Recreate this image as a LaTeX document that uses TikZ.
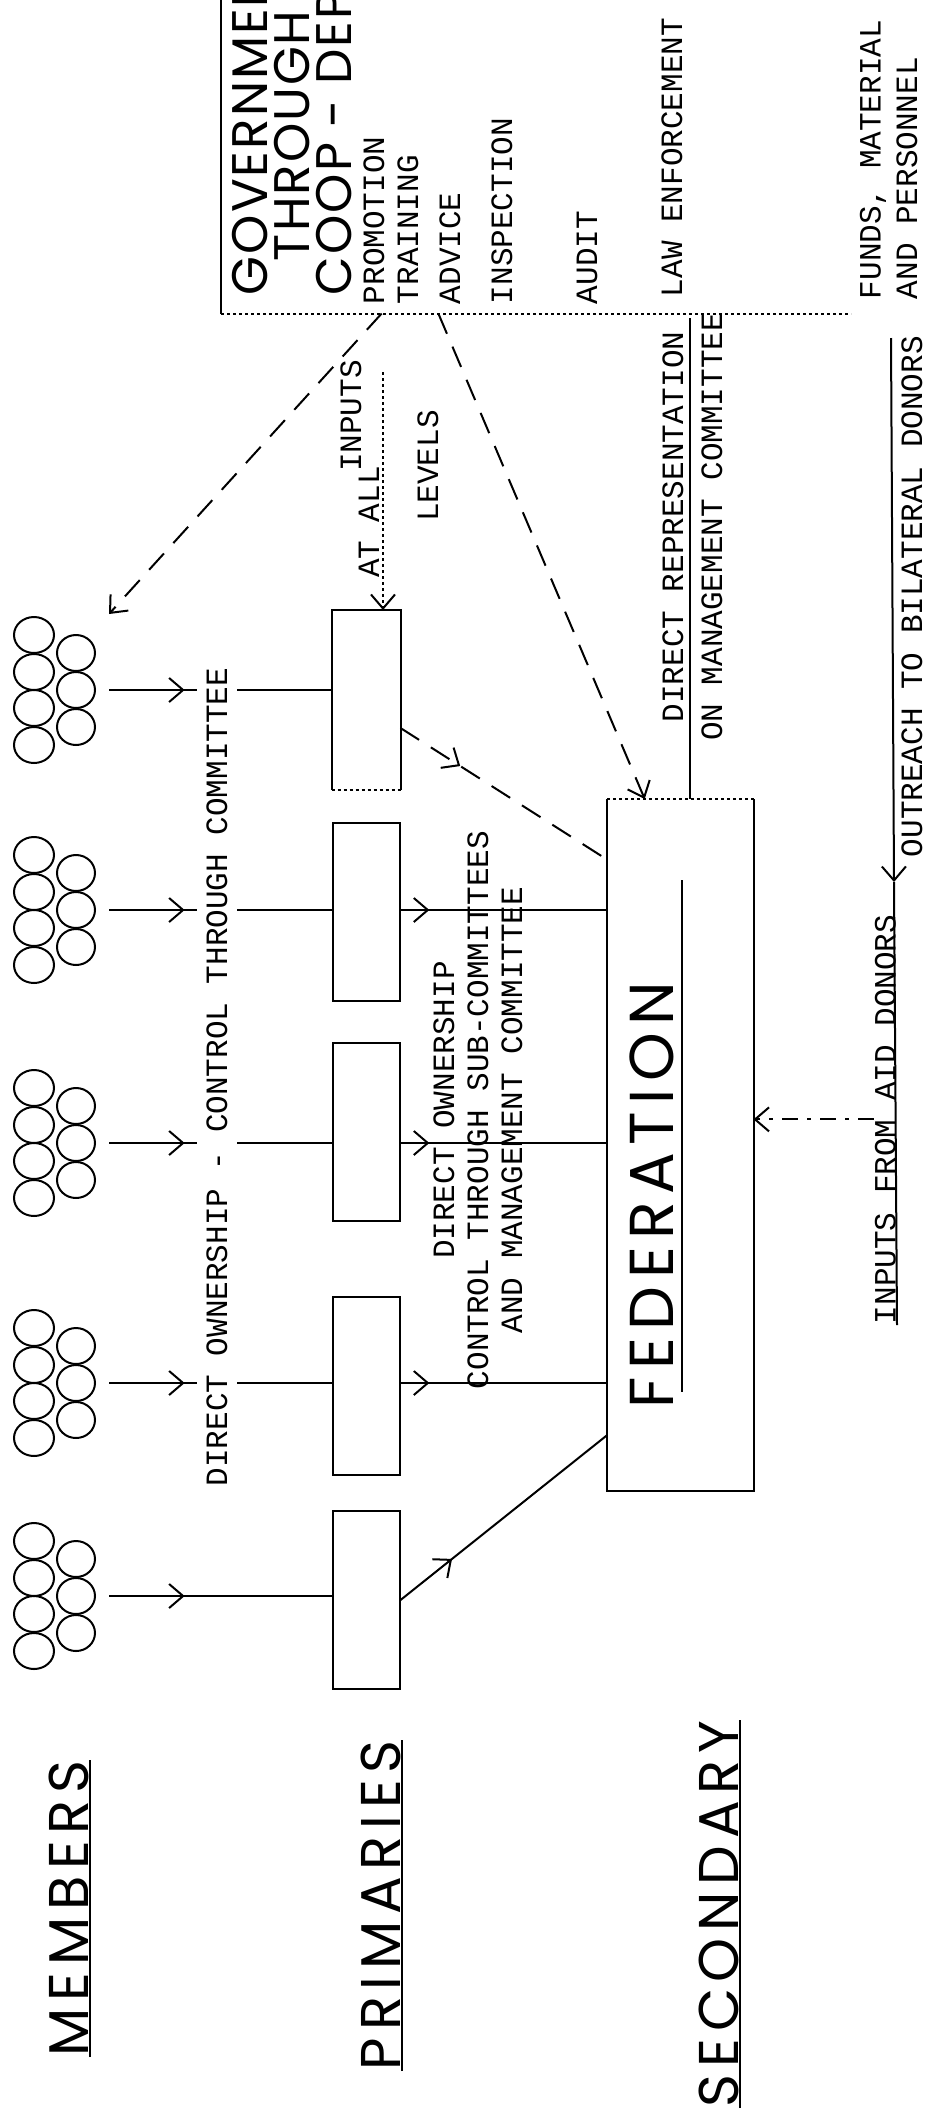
\documentclass[tikz,border=0pt]{standalone}
\usepackage{fontspec}
\setmainfont{Liberation Mono}
\newfontfamily\bigfont{Poppins}[LetterSpace=12]
\newfontfamily\headfont{Poppins}[LetterSpace=4]
\usetikzlibrary{arrows.meta,decorations.markings,calc}

\tikzset{
  tw/.style={font=\fontsize{31}{34}\selectfont, rotate=90, inner sep=0pt},
  big/.style={font=\bigfont\fontsize{56}{60}\selectfont, rotate=90, inner sep=0pt},
  head/.style={font=\headfont\fontsize{50}{54}\selectfont, rotate=90, inner sep=0pt, anchor=west},
  group/.style={minimum width=100pt, minimum height=150pt, inner sep=0pt},
  prim/.style={draw, minimum width=67pt, minimum height=178pt, inner sep=0pt},
  fedbox/.style={minimum width=145pt, minimum height=690pt, inner sep=0pt},
  govline/.style={dash pattern=on 22pt off 14pt},
  donorline/.style={dash pattern=on 16pt off 9pt on 4pt off 9pt},
  midarrow/.style={postaction={decorate}, decoration={markings,
      mark=at position #1 with {\arrow{Straight Barb[length=14pt,width=24pt]}}}},
}

% seven members drawn as a cluster of rings
\newcommand{\membergroup}[2]{%
  \node[group] (#1) at (58,#2) {};
  \foreach \dy in {-55,-18,18,55}
    \draw (34,{#2+\dy}) ellipse [x radius=20pt, y radius=18pt];
  \foreach \dy in {-37,0,37}
    \draw (76,{#2+\dy}) ellipse [x radius=19pt, y radius=18pt];
}

\begin{document}
\begin{tikzpicture}[x=1pt, y=-1pt, line width=2pt, >={Straight Barb[length=14pt,width=24pt]}]
  \useasboundingbox (0,0) rectangle (938,2112);
  \clip (0,0) rectangle (938,2112);

  % levels
  \node[big, anchor=south west] (lmem) at (90,2057) {MEMBERS};
  \node[big, anchor=south west] (lprim) at (402,2071) {PRIMARIES};
  \node[big, anchor=south west] (lsec) at (740,2108) {SECONDARY};
  \foreach \n in {lmem,lprim,lsec}
    \draw (\n.south west) -- (\n.south east);

  % members
  \membergroup{g1}{1596}
  \membergroup{g2}{1383}
  \membergroup{g3}{1143}
  \membergroup{g4}{910}
  \membergroup{g5}{690}

  % primaries
  \node[prim] (p1) at (366,1600) {};
  \node[prim] (p2) at (366,1386) {};
  \node[prim] (p3) at (366,1132) {};
  \node[prim] (p4) at (366,912) {};
  \node[prim, draw=none] (p5) at (366,700) {};
  \draw (p5.south west) -- (p5.north west) -- (p5.north east) -- (p5.south east);
  \draw[dashed] (p5.south west) -- (p5.south east);

  % secondary
  \node[fedbox] (fed) at (680,1145) {};
  \draw (fed.north west) -- (fed.south west) -- (fed.south east) -- (fed.north east);
  \draw[dashed] (fed.north east) -- (fed.north west);
  \node[big, font=\bigfont\fontsize{62}{64}\selectfont] (fedname) at (652,1195) {FEDERATION};
  \draw (682,880) -- (682,1392);

  % government
  \node[minimum width=628pt, minimum height=313pt, inner sep=0pt] (gov) at (536,156) {};
  \draw (gov.north west) -- (gov.south west);
  \draw[dashed] (gov.south west) -- (gov.south east);
  \node[head] (govt) at (250,296) {GOVERNMENT};
  \node[head] (thr) at (292,262) {THROUGH};
  \node[head] (coop) at (334,296) {COOP - DEPARTMENT};
  \node[tw, anchor=west] (promo) at (374,305) {PROMOTION};
  \node[tw, anchor=west] (train) at (408,305) {TRAINING};
  \node[tw, anchor=west] (advice) at (450,305) {ADVICE};
  \node[tw, anchor=west] (insp) at (502,305) {INSPECTION};
  \node[tw, anchor=west] (audit) at (587,305) {AUDIT};
  \node[tw, anchor=west] (law) at (672,298) {LAW ENFORCEMENT};
  \node[tw, anchor=west] (funds) at (873,300) {FUNDS, MATERIAL};
  \node[tw, anchor=west] (pers) at (907,300) {AND PERSONNEL};

  % flows
  \foreach \i in {1,...,5}
    \draw[midarrow=0.34] (g\i) -- (g\i -| p\i.west);
  \foreach \i in {2,3,4}
    \draw[midarrow=0.14] (g\i -| p\i.east) -- (g\i -| fed.west);
  \draw[midarrow=0.25] (p1.east) -- ($(fed.south west)!0.08!(fed.north west)$);
  \draw[govline, midarrow=0.29] ($(p5.east)+(0,28)$) -- ($(fed.north west)!0.087!(fed.south west)$);
  \draw[govline, ->] ($(gov.south west)!0.255!(gov.south east)$) -- (g5.north east);
  \draw[govline, ->] ($(gov.south west)!0.345!(gov.south east)$) -- ($(fed.north west)!0.26!(fed.north east)$);
  \coordinate (lvl) at (383,372);
  \draw[dashed, ->] (lvl) -- (lvl |- p5.north);

  \node[tw, fill=white, inner sep=9pt] (own) at (217,1077) {DIRECT OWNERSHIP - CONTROL THROUGH COMMITTEE};
  \node[tw, align=center] (sub) at (478,1110) {DIRECT OWNERSHIP\\CONTROL THROUGH SUB-COMMITTEES\\AND MANAGEMENT COMMITTEE};
  \node[tw] (inputs) at (351,416) {INPUTS};
  \node[tw] (atall) at (369,522) {AT ALL};
  \node[tw] (levels) at (428,466) {LEVELS};

  % representation and donors
  \node[tw] (rep) at (673,527) {DIRECT REPRESENTATION};
  \node[tw] (com) at (712,527) {ON MANAGEMENT COMMITTEE};
  \coordinate (repline) at (690,318);
  \draw (repline) -- (repline |- fed.north);
  \node[tw, anchor=south west] (inp) at (897,1325) {INPUTS FROM AID DONORS};
  \coordinate (inptop) at (894,882);
  \draw (inp.south west) -- (inptop);
  \node[tw, anchor=west] (outr) at (912,858) {OUTREACH TO BILATERAL DONORS};
  \coordinate (outrend) at (891,338);
  \draw[->] (outrend) -- (inptop);
  \draw[donorline, ->] (inp.north) -- (inp.north -| fed.east);
\end{tikzpicture}
\end{document}
